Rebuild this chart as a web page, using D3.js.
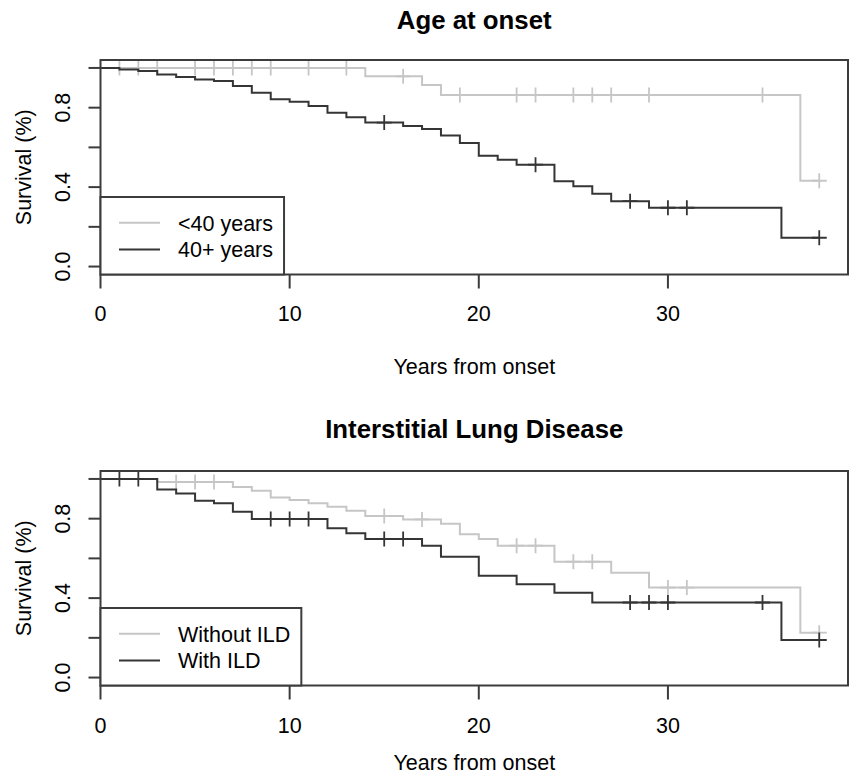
<!DOCTYPE html>
<html>
<head>
<meta charset="utf-8">
<script src="https://cdn.jsdelivr.net/npm/d3@7"></script>
<style>
  body { margin: 0; background: #fff; }
  svg text { font-family: "Liberation Sans", Arial, Helvetica, sans-serif; fill: #000; }
</style>
</head>
<body>
<div id="chart"></div>
<script>
// ---------------------------------------------------------------
// Data: step times, survival after each step,
// and censoring times (drawn as "+")
// ---------------------------------------------------------------

// Age at onset, <40 years
var youngStepTimes = [14, 17, 18, 37];
var youngStepSurv  = [0.958, 0.914, 0.864, 0.432];
var youngCensor    = [1, 2, 3, 5, 6, 7, 8, 9, 11, 13, 16, 19, 22, 23, 25, 26, 27, 29, 35, 38];

// Age at onset, 40+ years
var oldStepTimes = [1, 2, 3, 4, 5, 6, 7, 8, 9, 10, 11, 12, 13, 14, 16, 17, 18, 19, 20, 21, 22, 24, 25, 26, 27, 29, 36];
var oldStepSurv  = [0.992, 0.984, 0.967, 0.955, 0.942, 0.934, 0.909, 0.875, 0.842, 0.830, 0.808, 0.775, 0.752, 0.725,
                    0.708, 0.693, 0.660, 0.622, 0.558, 0.538, 0.513, 0.429, 0.404, 0.367, 0.329, 0.296, 0.145];
var oldCensor    = [15, 23, 28, 30, 31, 38];

// ILD, without
var noIldStepTimes = [3, 7, 8, 9, 10, 11, 12, 13, 14, 16, 18, 19, 20, 21, 24, 27, 29, 37];
var noIldStepSurv  = [0.985, 0.960, 0.940, 0.907, 0.894, 0.877, 0.860, 0.840, 0.813, 0.796, 0.774, 0.721,
                      0.697, 0.664, 0.583, 0.528, 0.453, 0.226];
var noIldCensor    = [4, 5, 6, 15, 17, 22, 23, 25, 26, 30, 31, 38];

// ILD, with
var ildStepTimes = [3, 4, 5, 6, 7, 8, 12, 13, 14, 17, 18, 20, 22, 24, 26, 36];
var ildStepSurv  = [0.947, 0.927, 0.890, 0.877, 0.835, 0.798, 0.752, 0.727, 0.697, 0.664, 0.608, 0.513,
                    0.470, 0.427, 0.378, 0.189];
var ildCensor    = [1, 2, 9, 10, 11, 15, 16, 28, 29, 30, 35, 38];

var xTicks = [0, 10, 20, 30];
var yTicks = [0, 0.2, 0.4, 0.6, 0.8, 1.0];
var yTickLabels = [0, 0.4, 0.8];

var lightColor = "#c6c6c6",
    darkColor = "#353535",
    frameColor = "#3c3c3c";

///////////////////////////////////////////////////////////////////////////
//////////////////////////// Set up the SVG ///////////////////////////////
///////////////////////////////////////////////////////////////////////////

var width = 849, height = 775;
var fontSize = 21.5;

var svg = d3.select("#chart")
  .append("svg")
  .attr("width", width)
  .attr("height", height);

var plotLeft = 100.5, plotRight = 848;
var maxTime = 38;

var x = d3.scaleLinear()
  .domain([0, maxTime * 1.04])
  .range([plotLeft, plotRight]);

var panels = [
  {
    title: "Age at onset",
    top: 60, bottom: 274.5,
    titleY: 28.5, tickLabelY: 321, xTitleY: 374,
    series: [
      {name: "<40 years", times: youngStepTimes, surv: youngStepSurv, censor: youngCensor, color: lightColor},
      {name: "40+ years", times: oldStepTimes, surv: oldStepSurv, censor: oldCensor, color: darkColor}
    ]
  },
  {
    title: "Interstitial Lung Disease",
    top: 471, bottom: 685.5,
    titleY: 438, tickLabelY: 733, xTitleY: 769.5,
    series: [
      {name: "Without ILD", times: noIldStepTimes, surv: noIldStepSurv, censor: noIldCensor, color: lightColor},
      {name: "With ILD", times: ildStepTimes, surv: ildStepSurv, censor: ildCensor, color: darkColor}
    ]
  }
];

panels.forEach(drawPanel);

function survAt(s, t) {
  var v = 1;
  s.times.forEach(function(tt, i) { if (tt <= t) v = s.surv[i]; });
  return v;
}//survAt

function drawPanel(p) {

  var y = d3.scaleLinear()
    .domain([-0.04, 1.04])
    .range([p.bottom, p.top]);

  var g = svg.append("g");

  //Title
  g.append("text")
    .attr("x", (plotLeft + plotRight) / 2)
    .attr("y", p.titleY)
    .attr("text-anchor", "middle")
    .style("font-size", (fontSize * 1.2) + "px")
    .style("font-weight", "bold")
    .text(p.title);

  //Survival curves
  var line = d3.line()
    .x(function(d) { return x(d[0]); })
    .y(function(d) { return y(d[1]); })
    .curve(d3.curveStepAfter);

  p.series.forEach(function(s) {
    var pts = [[0, 1]];
    s.times.forEach(function(t, i) { pts.push([t, s.surv[i]]); });
    pts.push([maxTime, s.surv[s.surv.length - 1]]);

    g.append("path")
      .attr("d", line(pts))
      .attr("fill", "none")
      .attr("stroke", s.color)
      .attr("stroke-width", 2);

    //Censoring marks
    g.selectAll(null)
      .data(s.censor)
      .enter().append("path")
      .attr("d", function(t) {
        var cx = x(t), cy = y(survAt(s, t)), r = 7.5;
        return "M" + (cx - r) + "," + cy + "H" + (cx + r) + "M" + cx + "," + (cy - r) + "V" + (cy + r);
      })
      .attr("stroke", s.color)
      .attr("stroke-width", 1.8);
  });

  //Frame
  g.append("rect")
    .attr("x", plotLeft)
    .attr("y", p.top)
    .attr("width", plotRight - plotLeft)
    .attr("height", p.bottom - p.top)
    .attr("fill", "none")
    .attr("stroke", frameColor)
    .attr("stroke-width", 2);

  //X axis
  g.selectAll(null)
    .data(xTicks)
    .enter().append("line")
    .attr("x1", function(d) { return x(d); })
    .attr("x2", function(d) { return x(d); })
    .attr("y1", p.bottom)
    .attr("y2", p.bottom + 14)
    .attr("stroke", frameColor)
    .attr("stroke-width", 2);

  g.selectAll(null)
    .data(xTicks)
    .enter().append("text")
    .attr("x", function(d) { return x(d); })
    .attr("y", p.tickLabelY)
    .attr("text-anchor", "middle")
    .style("font-size", fontSize + "px")
    .text(function(d) { return d; });

  g.append("text")
    .attr("x", (plotLeft + plotRight) / 2)
    .attr("y", p.xTitleY)
    .attr("text-anchor", "middle")
    .style("font-size", fontSize + "px")
    .text("Years from onset");

  //Y axis
  g.selectAll(null)
    .data(yTicks)
    .enter().append("line")
    .attr("x1", plotLeft)
    .attr("x2", plotLeft - 12)
    .attr("y1", function(d) { return y(d); })
    .attr("y2", function(d) { return y(d); })
    .attr("stroke", frameColor)
    .attr("stroke-width", 2);

  g.selectAll(null)
    .data(yTickLabels)
    .enter().append("text")
    .attr("transform", function(d) { return "translate(70," + y(d) + ") rotate(-90)"; })
    .attr("text-anchor", "middle")
    .style("font-size", fontSize + "px")
    .text(function(d) { return d3.format(".1f")(d); });

  g.append("text")
    .attr("transform", "translate(31," + ((p.top + p.bottom) / 2) + ") rotate(-90)")
    .attr("text-anchor", "middle")
    .style("font-size", fontSize + "px")
    .text("Survival (%)");

  //Legend
  var legend = g.append("g");
  var legendBox = legend.append("rect")
    .attr("fill", "#fff")
    .attr("stroke", frameColor)
    .attr("stroke-width", 2);

  var maxW = 0;
  p.series.forEach(function(s, i) {
    var baseY = p.bottom - 44 + i * 26.6;
    legend.append("line")
      .attr("x1", 119)
      .attr("x2", 160)
      .attr("y1", baseY - 7.7)
      .attr("y2", baseY - 7.7)
      .attr("stroke", s.color)
      .attr("stroke-width", 2);
    var txt = legend.append("text")
      .attr("x", 178)
      .attr("y", baseY)
      .style("font-size", fontSize + "px")
      .text(s.name);
    maxW = Math.max(maxW, txt.node().getComputedTextLength());
  });

  legendBox
    .attr("x", plotLeft)
    .attr("y", p.bottom - 77.5)
    .attr("width", 178 + maxW + 11 - plotLeft)
    .attr("height", 77.5);

}//function drawPanel
</script>
</body>
</html>
